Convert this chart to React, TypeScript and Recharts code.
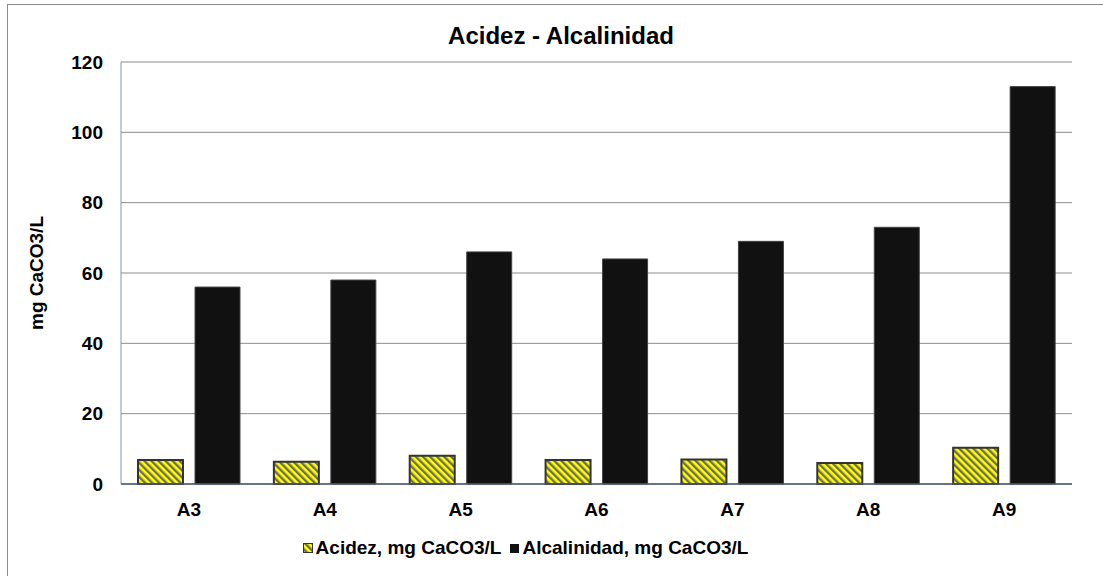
import React from "react";
import { BarChart, Bar, XAxis, YAxis, CartesianGrid, Legend } from "recharts";

const categories = ["A3", "A4", "A5", "A6", "A7", "A8", "A9"];
const acidez = [6.8, 6.3, 8.0, 6.8, 7.0, 6.0, 10.3];
const alcalinidad = [56, 58, 66, 64, 69, 73, 113];
const yTicks = [0, 20, 40, 60, 80, 100, 120];

const data = categories.map((name, i) => ({
  name,
  acidez: acidez[i],
  alcalinidad: alcalinidad[i],
}));

const FONT = "'Liberation Sans', Arial, sans-serif";

const LegendContent = () => (
  <div
    style={{
      display: "flex",
      justifyContent: "center",
      alignItems: "center",
      fontFamily: FONT,
      fontWeight: 700,
      fontSize: 19,
      color: "#000",
      paddingRight: 52,
    }}
  >
    <svg width={10} height={10} style={{ marginRight: 3 }}>
      <rect x={0.5} y={0.5} width={9} height={9} fill="url(#hatch)" stroke="#333" />
    </svg>
    <span style={{ marginRight: 9 }}>Acidez, mg CaCO3/L</span>
    <svg width={9} height={9} style={{ marginRight: 3 }}>
      <rect x={0} y={0} width={9} height={9} fill="#111" />
    </svg>
    <span>Alcalinidad, mg CaCO3/L</span>
  </div>
);

export default function App() {
  return (
    <div style={{ position: "absolute", left: 0, top: 0, width: 1103, height: 576, background: "#fff", overflow: "hidden" }}>
      <div
        style={{
          position: "absolute",
          left: 7,
          top: 4,
          width: 1110,
          height: 590,
          border: "1px solid #8c8c8c",
        }}
      />
      <div
        style={{
          position: "absolute",
          left: 0,
          width: 1122,
          top: 22,
          textAlign: "center",
          fontFamily: FONT,
          fontWeight: 700,
          fontSize: 24,
          color: "#000",
        }}
      >
        Acidez - Alcalinidad
      </div>
      <div style={{ position: "absolute", left: 0, top: 0 }}>
        <BarChart
          width={1103}
          height={576}
          data={data}
          margin={{ top: 62, right: 31, bottom: 18, left: 0 }}
          barSize={45}
          barGap={12}
          barCategoryGap={17}
        >
          <defs>
            <pattern id="hatch" width={5} height={5} patternUnits="userSpaceOnUse" patternTransform="rotate(-45)">
              <rect width={5} height={5} fill="#ffff00" />
              <rect width={2.4} height={5} fill="#6e6e5a" />
            </pattern>
          </defs>
          <CartesianGrid vertical={false} stroke="#8c8c8c" strokeWidth={1} />
          <XAxis
            dataKey="name"
            height={52}
            tickLine={false}
            tickSize={0}
            tickMargin={19}
            axisLine={{ stroke: "#4a5878", strokeWidth: 1.5 }}
            tick={{ fontFamily: FONT, fontWeight: 700, fontSize: 19, fill: "#000" }}
          />
          <YAxis
            width={121}
            domain={[0, 120]}
            ticks={yTicks}
            interval={0}
            tickLine={false}
            tickSize={0}
            tickMargin={18}
            axisLine={{ stroke: "#8a94a8", strokeWidth: 1 }}
            tick={{ fontFamily: FONT, fontWeight: 700, fontSize: 19, fill: "#000" }}
            label={{
              value: "mg CaCO3/L",
              angle: -90,
              position: "center",
              dx: -24,
              style: { fontFamily: FONT, fontWeight: 700, fontSize: 19, fill: "#000", textAnchor: "middle" },
            }}
          />
          <Legend
            verticalAlign="bottom"
            content={<LegendContent />}
            wrapperStyle={{ left: 0, width: 1103, top: 537, bottom: "auto" }}
          />
          <Bar
            dataKey="acidez"
            name="Acidez, mg CaCO3/L"
            fill="url(#hatch)"
            stroke="#333"
            strokeWidth={2}
            isAnimationActive={false}
          />
          <Bar
            dataKey="alcalinidad"
            name="Alcalinidad, mg CaCO3/L"
            fill="#111"
            stroke="#444"
            strokeWidth={1}
            isAnimationActive={false}
          />
        </BarChart>
      </div>
    </div>
  );
}
